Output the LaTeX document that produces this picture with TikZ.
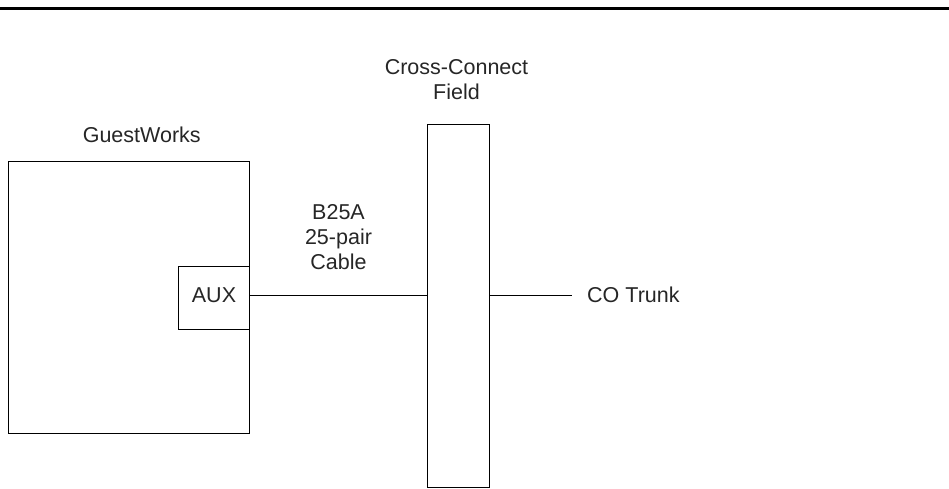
\documentclass[tikz,border=0pt]{standalone}
\usepackage{fontspec}
\setmainfont{Liberation Sans}
\usetikzlibrary{positioning}
\begin{document}
\begin{tikzpicture}[x=1pt,y=-1pt,
    box/.style={draw, line width=1pt, inner sep=0pt, anchor=north west},
    lbl/.style={inner sep=0pt, text=black!85, font=\fontsize{21.5}{25}\selectfont, align=center},
    wire/.style={line width=1pt}]
  \useasboundingbox (0,0) rectangle (949,488);
  \draw[line width=3pt] (0,8.5)--(949,8.5);

  \node[box, minimum width=241.5pt, minimum height=272pt] (gw) at (7.5,161) {};
  \node[box, minimum width=71pt, minimum height=63pt, fill=white] (aux) at (178,266) {};
  \node[box, minimum width=62pt, minimum height=363pt] (ccf) at (427,124) {};
  \coordinate (trunkend) at (572,295);

  \node[lbl] (auxlbl) at (aux.center |- trunkend) {AUX};
  \node[lbl, text depth=0pt, above=18pt of gw.north, xshift=13pt] (gwlbl) {GuestWorks};
  \node[lbl, text depth=0pt, above=24pt of ccf.north, xshift=-2pt] (ccflbl) {Cross-Connect\\Field};
  \node[lbl, anchor=west] (trunk) at (587,295) {CO Trunk};

  \draw[wire] (aux.east |- trunkend) -- (ccf.west |- trunkend)
    node[midway, above=25pt, lbl, text depth=0pt] (cable) {B25A\\25-pair\\Cable};
  \draw[wire] (ccf.east |- trunkend) -- (trunkend);
\end{tikzpicture}
\end{document}
